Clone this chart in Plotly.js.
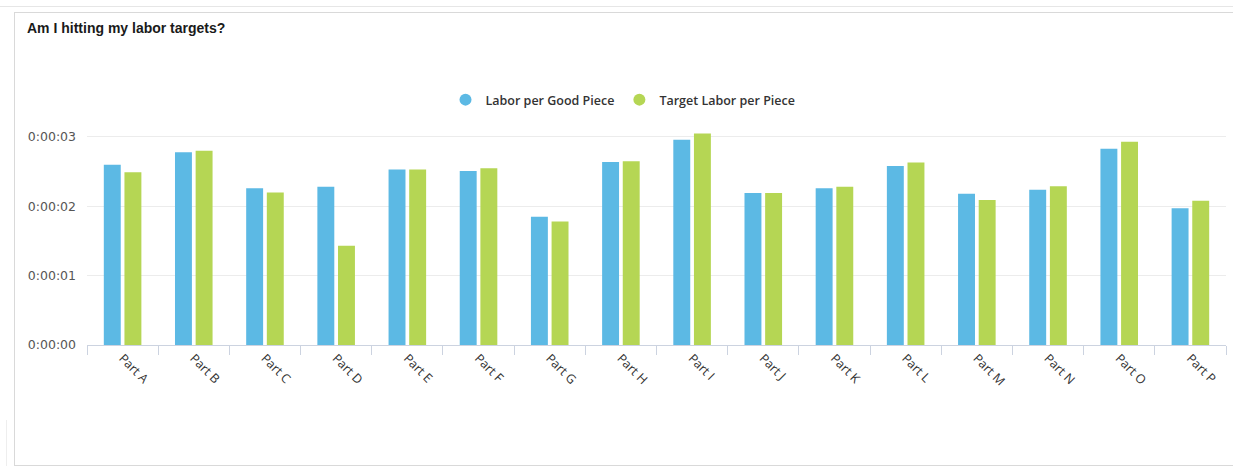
<!DOCTYPE html>
<html>
<head>
<meta charset="utf-8">
<script src="https://cdn.plot.ly/plotly-3.0.1.min.js"></script>
<style>
  html, body { margin: 0; padding: 0; background: #fff; }
  #wrap { position: relative; width: 1233px; height: 466px; overflow: hidden; }
  #chart { position: absolute; left: 0; top: 0; width: 1233px; height: 466px; }
  #topline { position: absolute; left: 0; top: 6px; width: 1233px; height: 0; border-top: 1px solid #e6e6e6; pointer-events: none; }
  #card { position: absolute; left: 14px; top: 12px; width: 1240px; height: 452px; border: 1px solid #d9d9d9; pointer-events: none; }
  #leftfaint { position: absolute; left: 6px; top: 420px; width: 0; height: 46px; border-left: 1px solid #eee; pointer-events: none; }
</style>
</head>
<body>
<div id="wrap">
  <div id="chart"></div>
  <div id="topline"></div>
  <div id="card"></div>
  <div id="leftfaint"></div>
</div>
<script>
// Data (seconds of labor per piece)
const categories = ["Part A","Part B","Part C","Part D","Part E","Part F","Part G","Part H",
                    "Part I","Part J","Part K","Part L","Part M","Part N","Part O","Part P"];
const laborPerGoodPiece   = [2.60, 2.78, 2.26, 2.28, 2.53, 2.51, 1.85, 2.64, 2.96, 2.19, 2.26, 2.58, 2.18, 2.24, 2.83, 1.97];
const targetLaborPerPiece = [2.49, 2.80, 2.20, 1.43, 2.53, 2.55, 1.78, 2.65, 3.05, 2.19, 2.28, 2.63, 2.09, 2.29, 2.93, 2.08];
const yTickVals  = [0, 1, 2, 3];
const yTickText  = ["0:00:00", "0:00:01", "0:00:02", "0:00:03"];
const seriesNames = ["Labor per Good Piece", "Target Labor per Piece"];
const blue = "#5cb9e4";
const green = "#b5d654";

const traces = [
  { type: "bar", x: categories, y: laborPerGoodPiece, name: seriesNames[0],
    marker: { color: blue }, showlegend: false, hoverinfo: "skip" },
  { type: "bar", x: categories, y: targetLaborPerPiece, name: seriesNames[1],
    marker: { color: green }, showlegend: false, hoverinfo: "skip" },
  // legend-only entries with circular symbols
  { type: "scatter", mode: "markers", x: [null], y: [null], name: seriesNames[0],
    marker: { color: blue, size: 12, symbol: "circle" } },
  { type: "scatter", mode: "markers", x: [null], y: [null], name: seriesNames[1],
    marker: { color: green, size: 12, symbol: "circle" } }
];

const layout = {
  width: 1233, height: 466,
  margin: { l: 87, r: 7, t: 130, b: 121 },
  paper_bgcolor: "rgba(0,0,0,0)",
  plot_bgcolor: "#fff",
  barmode: "group",
  bargap: 0.42,
  bargroupgap: 0.18,
  title: {
    text: "<b>Am I hitting my labor targets?</b>",
    xref: "container", yref: "container",
    x: 27 / 1233, xanchor: "left",
    y: 1 - 28 / 466, yanchor: "middle",
    font: { family: "Liberation Sans, Arial, sans-serif", size: 14, color: "#1a1a1a" }
  },
  legend: {
    orientation: "h",
    xref: "container", yref: "container",
    x: 623 / 1233, xanchor: "center",
    y: 1 - 100 / 466, yanchor: "middle",
    font: { family: "Open Sans, sans-serif", size: 12.5, color: "#333", weight: 600 },
    itemwidth: 30,
    bgcolor: "rgba(0,0,0,0)"
  },
  xaxis: {
    type: "category",
    categoryorder: "array",
    categoryarray: categories,
    range: [-0.5, 15.5],
    tickangle: 45,
    tickson: "boundaries",
    ticks: "outside",
    ticklen: 9,
    tickcolor: "#ccd3e0",
    showline: true,
    linecolor: "#ccd3e0",
    linewidth: 1,
    showgrid: false,
    tickfont: { family: "Open Sans, sans-serif", size: 12.5, color: "#333" },
    fixedrange: true
  },
  yaxis: {
    range: [0, 3.1],
    tickvals: yTickVals,
    ticktext: yTickText,
    showgrid: true,
    gridcolor: "#ececec",
    gridwidth: 1,
    zeroline: false,
    showline: false,
    ticks: "",
    ticklabelstandoff: 10,
    tickfont: { family: "DejaVu Sans, Verdana, sans-serif", size: 12.5, color: "#555" },
    fixedrange: true
  },
  showlegend: true
};

Plotly.newPlot("chart", traces, layout, { displayModeBar: false, staticPlot: true });
</script>
</body>
</html>
